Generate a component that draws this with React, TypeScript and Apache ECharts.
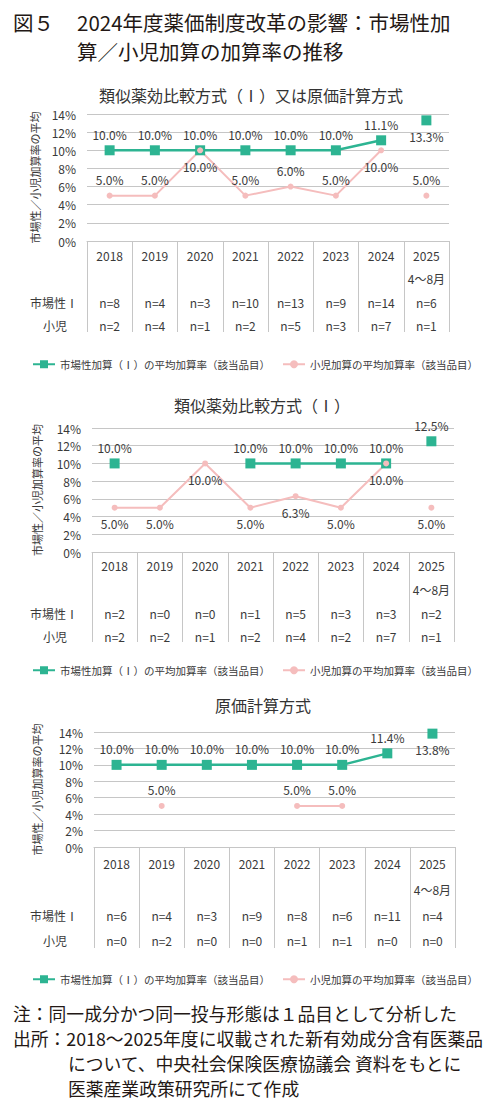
import * as echarts from "echarts";
import { useEffect, useRef } from "react";

const years = ["2018", "2019", "2020", "2021", "2022", "2023", "2024", "2025"];
const periodNotes = ["", "", "", "", "", "", "", "4～8月"];
const rowLabels = ["市場性Ⅰ", "小児"];
const seriesNames = ["市場性加算（Ⅰ）の平均加算率（該当品目）", "小児加算の平均加算率（該当品目）"];
const yAxisName = "市場性／小児加算率の平均";
const panelTitles = ["類似薬効比較方式（Ⅰ）又は原価計算方式", "類似薬効比較方式（Ⅰ）", "原価計算方式"];
const figureTitle = "2024年度薬価制度改革の影響：市場性加\n算／小児加算の加算率の推移";

// panel 1: 類似薬効比較方式（Ⅰ）又は原価計算方式
const marketRate1 = [10, 10, 10, 10, 10, 10, 11.1, 13.3];
const childRate1 = [5, 5, 10, 5, 6, 5, 10, 5];
const marketN1 = [8, 4, 3, 10, 13, 9, 14, 6];
const childN1 = [2, 4, 1, 2, 5, 3, 7, 1];

// panel 2: 類似薬効比較方式（Ⅰ）
const marketRate2 = [10, null, null, 10, 10, 10, 10, 12.5];
const childRate2 = [5, 5, 10, 5, 6.3, 5, 10, 5];
const marketN2 = [2, 0, 0, 1, 5, 3, 3, 2];
const childN2 = [2, 2, 1, 2, 4, 2, 7, 1];

// panel 3: 原価計算方式
const marketRate3 = [10, 10, 10, 10, 10, 10, 11.4, 13.8];
const childRate3 = [null, 5, null, null, 5, 5, null, null];
const marketN3 = [6, 4, 3, 9, 8, 6, 11, 4];
const childN3 = [0, 2, 0, 0, 1, 1, 0, 0];

const footnotes = [
  "注：同一成分かつ同一投与形態は１品目として分析した",
  "出所：2018～2025年度に収載された新有効成分含有医薬品",
  "について、中央社会保険医療協議会 資料をもとに",
  "医薬産業政策研究所にて作成",
];

const FONT = '"Noto Sans CJK JP", "Noto Sans", sans-serif';
const GREEN = "#2db492";
const PINK = "#f5bdbd";
const GRID = "#c6c6c6";
const TEXT = "#3a3a3a";

// where each data label sits, relative to its mark
const T = "top";
const B = "bottom";
const marketPos1 = [T, T, T, T, T, T, T, B];
const childPos1 = [T, T, B, T, T, T, B, T];
const marketPos2 = [T, T, T, T, T, T, T, T];
const childPos2 = [B, B, B, B, B, B, B, B];
const marketPos3 = [T, T, T, T, T, T, T, B];
const childPos3 = [T, T, T, T, T, T, T, T];

const panels = [
  { market: marketRate1, child: childRate1, marketN: marketN1, childN: childN1, mPos: marketPos1, cPos: childPos1 },
  { market: marketRate2, child: childRate2, marketN: marketN2, childN: childN2, mPos: marketPos2, cPos: childPos2 },
  { market: marketRate3, child: childRate3, marketN: marketN3, childN: childN3, mPos: marketPos3, cPos: childPos3 },
];

const layouts = [
  { left: 87, right: 51, top: 114, height: 127, tick: 91, margin: 3, rowH: 23.3, titleX: 251, titleY: 95, legendY: 361, nameGap: 45 },
  { left: 92, right: 46, top: 428, height: 124, tick: 90, margin: 2, rowH: 23.7, titleX: 262, titleY: 405, legendY: 667, nameGap: 50 },
  { left: 94, right: 45, top: 732, height: 115, tick: 101, margin: 4, rowH: 25.7, titleX: 263, titleY: 705, legendY: 976, nameGap: 52 },
];

const last = years.length - 1;

function toItems(values: (number | null)[], pos: string[], keep: (k: number) => boolean) {
  return values.map((v, k) =>
    v === null || !keep(k) ? "-" : { value: v, label: { position: pos[k] } }
  );
}

export default function App() {
  const ref = useRef<HTMLDivElement | null>(null);

  useEffect(() => {
    if (!ref.current) {
      return;
    }

    const chart = echarts.init(ref.current, null, { renderer: "svg" });

    const labelFmt = (p: any) => `${Number(p.value).toFixed(1)}%`;

    const series: any[] = [];
    panels.forEach((p, i) => {
      const defs = [
        { name: seriesNames[0], values: p.market, pos: p.mPos, color: GREEN, symbol: "rect", size: 10, width: 2.5, dist: 5 },
        { name: seriesNames[1], values: p.child, pos: p.cPos, color: PINK, symbol: "circle", size: 6, width: 2, dist: 7 },
      ];
      defs.forEach((d) => {
        // 2025 (4～8月) is a separate point, not joined to 2024
        [(k: number) => k < last, (k: number) => k === last].forEach((keep) => {
          series.push({
            name: d.name,
            type: "line",
            xAxisIndex: i,
            yAxisIndex: i,
            data: toItems(d.values, d.pos, keep),
            symbol: d.symbol,
            symbolSize: d.size,
            showAllSymbol: true,
            itemStyle: { color: d.color },
            lineStyle: { color: d.color, width: d.width },
            label: {
              show: true,
              formatter: labelFmt,
              fontSize: 12,
              color: TEXT,
              distance: d.dist,
            },
          });
        });
      });
    });

    const graphic: any[] = [];
    const text = (t: string, x: number, y: number, size: number, align = "left", color = TEXT) =>
      graphic.push({
        type: "text",
        x,
        y,
        style: {
          text: t,
          fontSize: size,
          fontFamily: FONT,
          fill: color,
          textAlign: align,
          textVerticalAlign: "middle",
        },
      });

    text("図５", 13, 22, 20.5, "left", "#231815");
    graphic.push({
      type: "text",
      x: 77,
      y: 7.75,
      style: {
        text: figureTitle,
        fontSize: 20.5,
        lineHeight: 28.5,
        fontFamily: FONT,
        fill: "#231815",
        textAlign: "left",
        textVerticalAlign: "top",
      },
    });

    layouts.forEach((l, i) => {
      text(panelTitles[i], l.titleX, l.titleY, 16, "center", "#333");
      const base = l.top + l.height + l.margin;
      text(rowLabels[0], 54, base + l.rowH * 2.5, 12, "center");
      text(rowLabels[1], 55, base + l.rowH * 3.5, 12, "center");
    });

    footnotes.forEach((f, k) => {
      text(f, k < 2 ? 13 : 68, 1013 + k * 25, 17.8, "left", "#231815");
    });

    chart.setOption({
      animation: false,
      backgroundColor: "#fff",
      textStyle: { fontFamily: FONT },
      grid: layouts.map((l) => ({ left: l.left, right: l.right, top: l.top, height: l.height })),
      xAxis: layouts.map((l, i) => ({
        type: "category",
        gridIndex: i,
        data: years,
        boundaryGap: true,
        axisLine: { lineStyle: { color: GRID, width: 1 } },
        axisTick: { show: true, interval: 0, length: l.tick, lineStyle: { color: GRID } },
        axisLabel: {
          interval: 0,
          margin: l.margin,
          color: TEXT,
          formatter: (value: string, idx: number) =>
            `{y|${value}}\n{s|${periodNotes[idx] || " "}}\n{n|n=${panels[i].marketN[idx]}}\n{n|n=${panels[i].childN[idx]}}`,
          rich: {
            y: { fontSize: 12, lineHeight: l.rowH, color: TEXT, fontFamily: FONT },
            s: { fontSize: 12, lineHeight: l.rowH, color: TEXT, fontFamily: FONT },
            n: { fontSize: 12, lineHeight: l.rowH, color: TEXT, fontFamily: FONT },
          },
        },
      })),
      yAxis: layouts.map((l, i) => ({
        type: "value",
        gridIndex: i,
        min: 0,
        max: 14,
        interval: 2,
        axisLine: { show: false },
        axisTick: { show: false },
        splitLine: { lineStyle: { color: GRID, width: 1 } },
        axisLabel: { formatter: "{value}%", fontSize: 12, color: TEXT, margin: 11 },
        name: yAxisName,
        nameLocation: "middle",
        nameRotate: 90,
        nameGap: l.nameGap,
        nameTextStyle: { fontSize: 11, color: TEXT },
      })),
      legend: layouts.map((l) => ({
        data: seriesNames,
        top: l.legendY - 7,
        left: 27,
        itemWidth: 22,
        itemHeight: 10,
        itemGap: 12,
        selectedMode: false,
        textStyle: { fontSize: 10.5, color: TEXT },
      })),
      series,
      graphic,
    });

    return () => {
      chart.dispose();
    };
  }, []);

  return (
    <div
      ref={ref}
      style={{ position: "absolute", left: 0, top: 0, width: 500, height: 1109, background: "#fff" }}
    />
  );
}
